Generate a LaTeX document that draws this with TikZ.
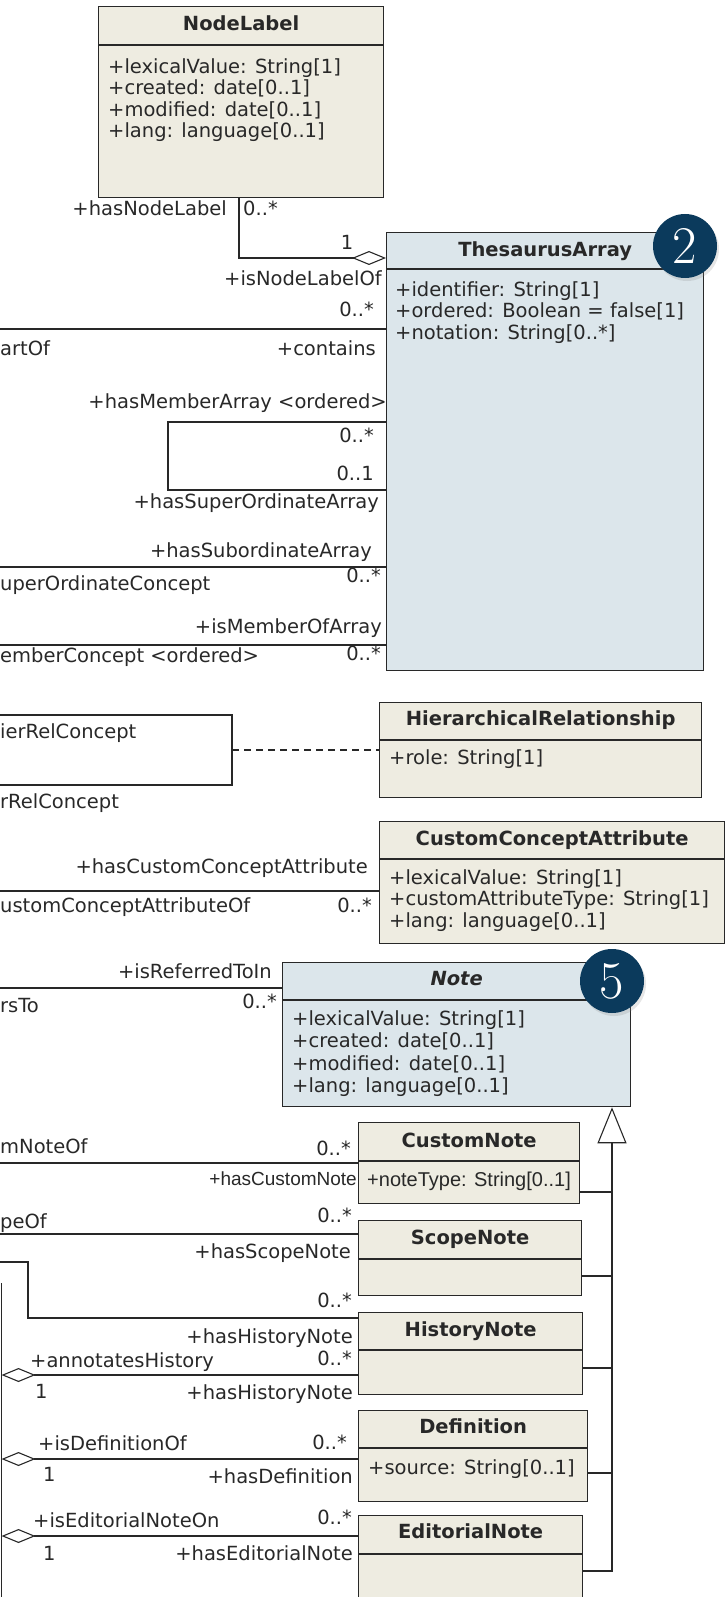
\documentclass[tikz,border=0pt]{standalone}
\usepackage{fontspec}
\setsansfont{DejaVu Sans}
\newfontfamily\narrowsans{Liberation Sans}
\usetikzlibrary{arrows.meta,shadows}

\definecolor{classfill}{RGB}{238,236,225}
\definecolor{abstractfill}{RGB}{220,230,235}
\definecolor{badgefill}{RGB}{11,58,92}
\definecolor{inkcol}{RGB}{40,40,40}

\tikzset{
  classbox/.style={draw=inkcol, line width=1.3pt, inner sep=0pt, anchor=north west},
  classtitle/.style={font=\sffamily\bfseries\fontsize{19.5}{21.5}\selectfont, text=inkcol, inner sep=0pt, text height=15pt, text depth=4pt},
  attrlist/.style={font=\sffamily\fontsize{19.5}{21.5}\selectfont, text=inkcol, inner sep=0pt, align=left, anchor=north west},
  rolelabel/.style={font=\sffamily\fontsize{19.5}{21.5}\selectfont, text=inkcol, inner sep=0pt, text height=14pt, text depth=4pt},
  assoc/.style={draw=inkcol, line width=1.3pt},
  aggr/.style={assoc, -{Diamond[open, length=34pt, width=14pt, line width=1.1pt]}},
  generalize/.style={assoc, -{Triangle[open, length=36pt, width=29pt, line width=1.1pt]}},
  badge/.style={circle, fill=badgefill, text=white, minimum size=64pt, inner sep=0pt,
    font=\rmfamily\fontsize{53}{53}\selectfont,
    drop shadow={shadow xshift=2pt, shadow yshift=-3pt, opacity=.2}},
}

\begin{document}
\begin{tikzpicture}[x=1pt, y=-1pt]
  \useasboundingbox (0,0) rectangle (725,1597);
  \coordinate (leftedge) at (-2,0);
  \coordinate (ConceptCorner) at (1.5,1283);
  \coordinate (genbus) at (612,1571);
  \coordinate (hiermid) at (232,750);
%%
  % Node: NodeLabel
\begin{scope}
  \node[classbox, fill=classfill, minimum width=285, minimum height=191] (NodeLabel) at (98,6) {};
  \draw[assoc] (NodeLabel.west |- 0,45) -- (NodeLabel.east |- 0,45);
  \node[classtitle] (NodeLabel-title) at (NodeLabel.north |- 0,25) {NodeLabel};
  \node[attrlist] (NodeLabel-attrs) at (108,58) {+lexicalValue: String[1]\\+created: date[0..1]\\+modified: date[0..1]\\+lang: language[0..1]};
\end{scope}
  % Node: ThesaurusArray
\begin{scope}
  \node[classbox, fill=abstractfill, minimum width=317, minimum height=438] (ThesaurusArray) at (386,232) {};
  \draw[assoc] (ThesaurusArray.west |- 0,269) -- (ThesaurusArray.east |- 0,269);
  \node[classtitle] (ThesaurusArray-title) at (ThesaurusArray.north |- 0,251) {ThesaurusArray};
  \node[attrlist] (ThesaurusArray-attrs) at (395,281) {+identifier: String[1]\\+ordered: Boolean = false[1]\\+notation: String[0..*]};
\end{scope}
  % Node: HierarchicalRelationship
\begin{scope}
  \node[classbox, fill=classfill, minimum width=322, minimum height=95] (HierarchicalRelationship) at (379,702) {};
  \draw[assoc] (HierarchicalRelationship.west |- 0,740) -- (HierarchicalRelationship.east |- 0,740);
  \node[classtitle] (HierarchicalRelationship-title) at (HierarchicalRelationship.north |- 0,720) {HierarchicalRelationship};
  \node[attrlist] (HierarchicalRelationship-attrs) at (389,749) {+role: String[1]};
\end{scope}
  % Node: CustomConceptAttribute
\begin{scope}
  \node[classbox, fill=classfill, minimum width=345, minimum height=122] (CustomConceptAttribute) at (379,821) {};
  \draw[assoc] (CustomConceptAttribute.west |- 0,859) -- (CustomConceptAttribute.east |- 0,859);
  \node[classtitle] (CustomConceptAttribute-title) at (CustomConceptAttribute.north |- 0,840) {CustomConceptAttribute};
  \node[attrlist] (CustomConceptAttribute-attrs) at (389,869) {+lexicalValue: String[1]\\+customAttributeType: String[1]\\+lang: language[0..1]};
\end{scope}
  % Node: Note
\begin{scope}
  \node[classbox, fill=abstractfill, minimum width=348, minimum height=144] (Note) at (282,962) {};
  \draw[assoc] (Note.west |- 0,1000) -- (Note.east |- 0,1000);
  \node[classtitle, font=\sffamily\bfseries\itshape\fontsize{19.5}{21.5}\selectfont] (Note-title) at (Note.north |- 0,980) {Note};
  \node[attrlist, font=\sffamily\fontsize{19.5}{22.5}\selectfont] (Note-attrs) at (292,1010) {+lexicalValue: String[1]\\+created: date[0..1]\\+modified: date[0..1]\\+lang: language[0..1]};
\end{scope}
  % Node: CustomNote
\begin{scope}
  \node[classbox, fill=classfill, minimum width=221, minimum height=81] (CustomNote) at (358,1122) {};
  \draw[assoc] (CustomNote.west |- 0,1161) -- (CustomNote.east |- 0,1161);
  \node[classtitle] (CustomNote-title) at (CustomNote.north |- 0,1142) {CustomNote};
  \node[attrlist, font=\narrowsans\fontsize{20}{21.5}\selectfont] (CustomNote-attrs) at (367,1172) {+noteType: String[0..1]};
\end{scope}
  % Node: ScopeNote
\begin{scope}
  \node[classbox, fill=classfill, minimum width=223, minimum height=75] (ScopeNote) at (358,1220) {};
  \draw[assoc] (ScopeNote.west |- 0,1259) -- (ScopeNote.east |- 0,1259);
  \node[classtitle] (ScopeNote-title) at (ScopeNote.north |- 0,1239) {ScopeNote};
\end{scope}
  % Node: HistoryNote
\begin{scope}
  \node[classbox, fill=classfill, minimum width=224, minimum height=82] (HistoryNote) at (358,1312) {};
  \draw[assoc] (HistoryNote.west |- 0,1350) -- (HistoryNote.east |- 0,1350);
  \node[classtitle] (HistoryNote-title) at (HistoryNote.north |- 0,1331) {HistoryNote};
\end{scope}
  % Node: Definition
\begin{scope}
  \node[classbox, fill=classfill, minimum width=229, minimum height=91] (Definition) at (358,1410) {};
  \draw[assoc] (Definition.west |- 0,1448) -- (Definition.east |- 0,1448);
  \node[classtitle] (Definition-title) at (Definition.north |- 0,1428) {Definition};
  \node[attrlist] (Definition-attrs) at (368,1459) {+source: String[0..1]};
\end{scope}
  % Node: EditorialNote
\begin{scope}
  \node[classbox, fill=classfill, minimum width=224, minimum height=88] (EditorialNote) at (358,1515) {};
  \draw[assoc] (EditorialNote.west |- 0,1554) -- (EditorialNote.east |- 0,1554);
  \node[classtitle] (EditorialNote-title) at (EditorialNote.north |- 0,1533) {EditorialNote};
\end{scope}
%
  % Edge: NodeLabel -> ThesaurusArray
  \draw[aggr] (239,0 |- NodeLabel.south) |- (ThesaurusArray.west |- 0,258);
  \node[rolelabel, anchor=east] (hasNodeLabel) at (227,211) {+hasNodeLabel};
  \node[rolelabel, anchor=west] (hasNodeLabel-m) at (243,211) {0..*};
  \node[rolelabel] (isNodeLabelOf-m) at (347,245) {1};
  \node[rolelabel, anchor=east] (isNodeLabelOf) at (382,280) {+isNodeLabelOf};
  % Edge: Concept -> ThesaurusArray
  \draw[assoc] (leftedge |- 0,329) -- (ThesaurusArray.west |- 0,329);
  \node[rolelabel, anchor=east] (contains-m) at (374,311) {0..*};
  \node[rolelabel, anchor=west] (isPartOf) at (0,350) {artOf};
  \node[rolelabel, anchor=east] (contains) at (376,350) {+contains};
  % Edge: ThesaurusArray -> ThesaurusArray
  \draw[assoc] (ThesaurusArray.west |- 0,422) -| (168,490) -- (ThesaurusArray.west |- 0,490);
  \node[rolelabel, anchor=east] (hasMemberArray) at (387,403) {+hasMemberArray <ordered>};
  \node[rolelabel, anchor=east] (hasMemberArray-m) at (374,437) {0..*};
  \node[rolelabel, anchor=east] (hasSuperOrdinateArray-m) at (374,475) {0..1};
  \node[rolelabel, anchor=east] (hasSuperOrdinateArray) at (379,503) {+hasSuperOrdinateArray};
  % Edge: Concept -> ThesaurusArray
  \draw[assoc] (leftedge |- 0,567) -- (ThesaurusArray.west |- 0,567);
  \node[rolelabel, anchor=east] (hasSubordinateArray) at (372,552) {+hasSubordinateArray};
  \node[rolelabel, anchor=east] (hasSubordinateArray-m) at (381,577) {0..*};
  \node[rolelabel, anchor=west] (superOrdinateConcept) at (0,585) {uperOrdinateConcept};
  % Edge: Concept -> ThesaurusArray
  \draw[assoc] (leftedge |- 0,645) -- (ThesaurusArray.west |- 0,645);
  \node[rolelabel, anchor=east] (isMemberOfArray) at (382,628) {+isMemberOfArray};
  \node[rolelabel, anchor=west] (memberConcept) at (0,657) {emberConcept <ordered>};
  \node[rolelabel, anchor=east] (memberConcept-m) at (381,655) {0..*};
  % Edge: Concept -> Concept
  \draw[assoc] (leftedge |- 0,715) -| (232,785) -- (leftedge |- 0,785);
  \draw[assoc, dash pattern=on 7pt off 5pt] (hiermid) -- (HierarchicalRelationship.west |- hiermid);
  \node[rolelabel, anchor=west] (hierRelConcept-a) at (0,733) {ierRelConcept};
  \node[rolelabel, anchor=west] (hierRelConcept-b) at (0,803) {rRelConcept};
  % Edge: Concept -> CustomConceptAttribute
  \draw[assoc] (leftedge |- 0,891) -- (CustomConceptAttribute.west |- 0,891);
  \node[rolelabel, anchor=east] (hasCustomConceptAttribute) at (368,868) {+hasCustomConceptAttribute};
  \node[rolelabel, anchor=west] (customConceptAttributeOf) at (0,907) {ustomConceptAttributeOf};
  \node[rolelabel, anchor=east] (customConceptAttributeOf-m) at (372,907) {0..*};
  % Edge: Concept -> Note
  \draw[assoc] (leftedge |- 0,988) -- (Note.west |- 0,988);
  \node[rolelabel, anchor=east] (isReferredToIn) at (272,973) {+isReferredToIn};
  \node[rolelabel, anchor=west] (refersTo) at (0,1007) {rsTo};
  \node[rolelabel, anchor=east] (refersTo-m) at (277,1003) {0..*};
  % Edge: Concept -> CustomNote
  \draw[assoc] (leftedge |- 0,1163) -- (CustomNote.west |- 0,1163);
  \node[rolelabel, anchor=west] (customNoteOf) at (0,1148) {mNoteOf};
  \node[rolelabel, anchor=east] (customNoteOf-m) at (351,1150) {0..*};
  \node[rolelabel, anchor=east, font=\narrowsans\fontsize{19}{21.5}\selectfont] (hasCustomNote) at (357,1180) {+hasCustomNote};
  % Edge: Concept -> ScopeNote
  \draw[assoc] (leftedge |- 0,1234) -- (ScopeNote.west |- 0,1234);
  \node[rolelabel, anchor=west] (scopeNoteOf) at (0,1223) {peOf};
  \node[rolelabel, anchor=east] (scopeNoteOf-m) at (352,1217) {0..*};
  \node[rolelabel, anchor=east] (hasScopeNote) at (351,1253) {+hasScopeNote};
  % Edge: Concept -> HistoryNote
  \draw[assoc] (leftedge |- 0,1262) -| (28,1318) -- (HistoryNote.west |- 0,1318);
  \node[rolelabel, anchor=east] (historyNote-m) at (352,1302) {0..*};
  \node[rolelabel, anchor=east] (hasHistoryNote-a) at (353,1338) {+hasHistoryNote};
  % Node: Concept (edge only)
  \draw[assoc] (ConceptCorner) -- (ConceptCorner |- 0,1610);
  % Edge: HistoryNote -> Concept
  \draw[aggr] (HistoryNote.west |- 0,1375) -- (ConceptCorner |- 0,1375);
  \node[rolelabel, anchor=west] (annotatesHistory) at (30,1362) {+annotatesHistory};
  \node[rolelabel, anchor=east] (annotatesHistory-m) at (352,1360) {0..*};
  \node[rolelabel, anchor=west] (hasHistoryNote-m) at (35,1393) {1};
  \node[rolelabel, anchor=east] (hasHistoryNote-b) at (353,1394) {+hasHistoryNote};
  % Edge: Definition -> Concept
  \draw[aggr] (Definition.west |- 0,1459) -- (ConceptCorner |- 0,1459);
  \node[rolelabel, anchor=west] (isDefinitionOf) at (38,1445) {+isDefinitionOf};
  \node[rolelabel, anchor=east] (isDefinitionOf-m) at (347,1444) {0..*};
  \node[rolelabel, anchor=west] (hasDefinition-m) at (43,1476) {1};
  \node[rolelabel, anchor=east] (hasDefinition) at (353,1478) {+hasDefinition};
  % Edge: EditorialNote -> Concept
  \draw[aggr] (EditorialNote.west |- 0,1536) -- (ConceptCorner |- 0,1536);
  \node[rolelabel, anchor=west] (isEditorialNoteOn) at (33,1522) {+isEditorialNoteOn};
  \node[rolelabel, anchor=east] (isEditorialNoteOn-m) at (352,1519) {0..*};
  \node[rolelabel, anchor=west] (hasEditorialNote-m) at (43,1555) {1};
  \node[rolelabel, anchor=east] (hasEditorialNote) at (353,1555) {+hasEditorialNote};
  % Edge: {CustomNote, ScopeNote, HistoryNote, Definition, EditorialNote} -> Note
  \draw[generalize] (EditorialNote.east |- genbus) -| (genbus |- Note.south);
  \draw[assoc] (CustomNote.east |- 0,1192) -- (genbus |- 0,1192);
  \draw[assoc] (ScopeNote.east |- 0,1276) -- (genbus |- 0,1276);
  \draw[assoc] (HistoryNote.east |- 0,1368) -- (genbus |- 0,1368);
  \draw[assoc] (Definition.east |- 0,1473) -- (genbus |- 0,1473);
%
  % Badges
  \node[badge] (badge2) at (685,246) {2};
  \node[badge] (badge5) at (612,981) {5};
%
\end{tikzpicture}
\end{document}
